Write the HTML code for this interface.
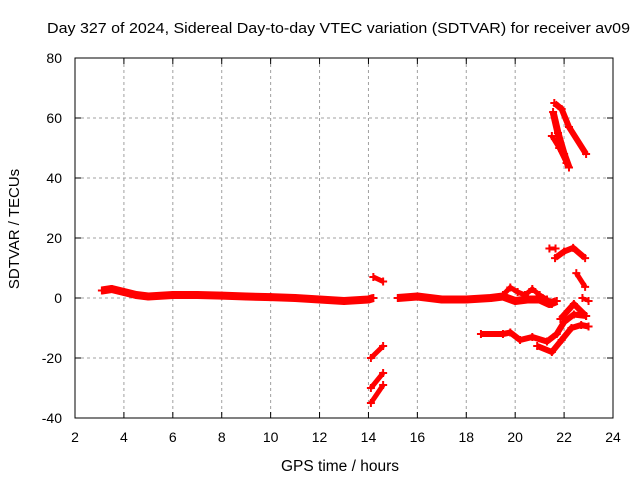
<!DOCTYPE html>
<html><head><meta charset="utf-8"><style>
body{margin:0;background:#fff;}
svg{display:block;font-family:"Liberation Sans",sans-serif;}
</style></head><body>
<svg id="chart" width="640" height="480"></svg>
<script>
const xTicks=[2,4,6,8,10,12,14,16,18,20,22,24];
const yTicks=[-40,-20,0,20,40,60,80];
const baseline1=[[3.1,2.5],[3.5,3],[4,2],[4.5,1],[5,0.5],[6,1],[7,1],[8,0.8],[9,0.5],[10,0.3],[11,0],[12,-0.5],[13,-1],[14,-0.5],[14.2,0]];
const seg6=[[14.2,7],[14.6,5.5]];
const steepA=[[14.1,-20],[14.6,-16]];
const steepB=[[14.1,-30],[14.6,-25]];
const steepC=[[14.1,-35],[14.6,-29]];
const baseline2=[[15.2,0],[16,0.5],[17,-0.5],[18,-0.5],[19,0],[19.5,0.5],[20,-1],[20.5,-0.5],[21,-0.5],[21.4,-2],[21.7,-1]];
const squiggle=[[19.5,1],[19.8,3.5],[20.1,2],[20.4,1],[20.7,3],[21,1],[21.3,-0.5],[21.5,-2]];
const lowA=[[18.6,-12],[19.5,-12],[19.8,-11.5],[20.2,-14],[20.7,-13],[21.3,-14.5],[21.7,-12],[22,-8],[22.4,-5.5],[22.9,-6]];
const lowB=[[20.9,-16],[21.5,-18],[21.9,-14],[22.3,-10],[22.7,-9],[23,-9.5]];
const midArc=[[21.85,-7],[22.4,-2],[22.9,-6]];
const smallPiece=[[22.75,0],[23,-1]];
const tick16=[[21.4,16.5],[21.65,16.5]];
const arc16=[[21.63,13.3],[22.0,15.5],[22.37,16.7],[22.86,13.3]];
const piece6=[[22.5,8.3],[22.86,3.7]];
const top1=[[21.6,65],[21.9,63],[22.2,57],[22.9,48]];
const top2=[[21.55,62],[21.75,55],[22.0,48],[22.2,43.5]];
const top3=[[21.5,54],[21.8,50],[22.1,45]];
const allSeries=[[baseline1,8],[seg6,5],[steepA,5],[steepB,5],[steepC,5],[baseline2,8],[squiggle,5],[lowA,6],[lowB,6],[midArc,6],[smallPiece,4],[tick16,4],[arc16,6],[piece6,5],[top1,6],[top2,7],[top3,5]];

const L=75,R=613,T=58,B=418;
const xS=h=>L+(h-2)*(R-L)/22;
const yS=v=>T+(80-v)*(B-T)/120;
const NS="http://www.w3.org/2000/svg";
const svg=document.getElementById('chart');
function mk(tag,attrs,txt){const e=document.createElementNS(NS,tag);for(const k in attrs)e.setAttribute(k,attrs[k]);if(txt!==undefined)e.textContent=txt;svg.appendChild(e);return e;}

xTicks.forEach(t=>{
  const x=xS(t);
  if(t>2&&t<24){const g=mk('line',{x1:x,x2:x,y1:T,y2:B,stroke:'#a0a0a0','stroke-dasharray':'3,3'});
  
  }
  const lb=mk('text',{x:x,y:B+24,'text-anchor':'middle','font-size':14},String(t));
  
  
  mk('line',{x1:x,x2:x,y1:B,y2:B-6,stroke:'#000'});
  mk('line',{x1:x,x2:x,y1:T,y2:T+6,stroke:'#000'});
});
yTicks.forEach(t=>{
  const y=yS(t);
  if(t>-40&&t<80){const g=mk('line',{x1:L,x2:R,y1:y,y2:y,stroke:'#a0a0a0','stroke-dasharray':'3,3'});
  
  }
  const lb=mk('text',{x:L-13,y:y+5,'text-anchor':'end','font-size':14},String(t));
  
  
  mk('line',{x1:L,x2:L+6,y1:y,y2:y,stroke:'#000'});
  mk('line',{x1:R,x2:R-6,y1:y,y2:y,stroke:'#000'});
});
allSeries.forEach(([pts,w])=>{
  const p=mk('polyline',{points:pts.map(d=>xS(d[0])+','+yS(d[1])).join(' '),fill:'none',stroke:'#ff0000','stroke-width':w,'stroke-linejoin':'round','stroke-linecap':'butt'});
  
  
  pts.forEach(d=>{
    const m=mk('path',{d:`M${xS(d[0])-4},${yS(d[1])}h8M${xS(d[0])},${yS(d[1])-4}v8`,stroke:'#ff0000','stroke-width':2});
    
    
  });
});
const fr=mk('rect',{x:L,y:T,width:R-L,height:B-T,fill:'none',stroke:'#000'});


const ti=mk('text',{x:47,y:33,'font-size':15,textLength:583,lengthAdjust:'spacingAndGlyphs'},'Day 327 of 2024, Sidereal Day-to-day VTEC variation (SDTVAR) for receiver av09');


const xl=mk('text',{x:340,y:471,'text-anchor':'middle','font-size':15.5},'GPS time / hours');


const yl=mk('text',{x:0,y:0,'text-anchor':'middle','font-size':15,transform:'translate(19,229) rotate(-90)'},'SDTVAR / TECUs');


</script>
</body></html>
